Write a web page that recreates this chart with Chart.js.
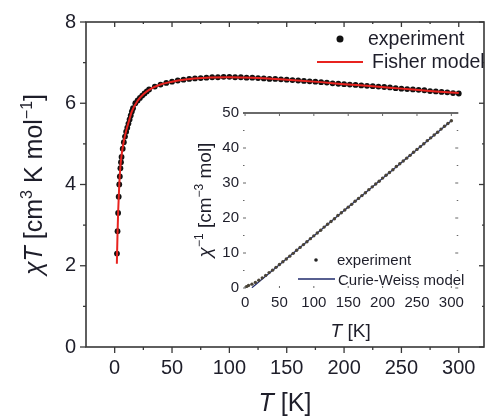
<!DOCTYPE html>
<html>
<head>
<meta charset="utf-8">
<title>chiT vs T</title>
<script src="https://cdn.jsdelivr.net/npm/chart.js@4.4.0/dist/chart.umd.min.js"></script>
<style>
    html, body { margin: 0; padding: 0; background: #fff; }
    #wrap { position: relative; width: 488px; height: 419px; overflow: hidden; }
    #mainChart { position: absolute; left: 0; top: 0; }
    #insetChart { position: absolute; left: 190px; top: 100px; }
</style>
</head>
<body>
<div id="wrap">
    <canvas id="mainChart" width="488" height="419"></canvas>
    <canvas id="insetChart" width="280" height="245"></canvas>
</div>
<script>
// ============================================
// Data
// ============================================

// main panel: chi*T vs T, experiment
const EXP_T = [2, 2.5, 3, 3.5, 4, 4.5, 5, 5.5, 6, 7, 8, 9, 10, 11, 12, 13, 14, 15, 16, 18, 20, 22, 24, 26, 28,
    30, 35, 40, 45, 50, 55, 60, 65, 70, 75, 80, 85, 90, 95, 100, 105, 110, 115, 120, 125, 130, 135, 140, 145,
    150, 155, 160, 165, 170, 175, 180, 185, 190, 195, 200, 205, 210, 215, 220, 225, 230, 235, 240, 245,
    250, 255, 260, 265, 270, 275, 280, 285, 290, 295, 300];
const EXP_CHIT = [2.30, 2.85, 3.30, 3.70, 4.00, 4.20, 4.40, 4.55, 4.68, 4.88, 5.04, 5.18, 5.30, 5.40, 5.50, 5.60, 5.70, 5.80, 5.88, 6.00, 6.07, 6.13, 6.19, 6.24, 6.29,
    6.34, 6.41, 6.46, 6.50, 6.53, 6.56, 6.58, 6.60, 6.61, 6.62, 6.63, 6.64, 6.64, 6.65, 6.65, 6.64, 6.64, 6.63, 6.63, 6.62, 6.61, 6.60, 6.60, 6.59,
    6.58, 6.57, 6.56, 6.55, 6.54, 6.53, 6.52, 6.51, 6.49, 6.48, 6.47, 6.46, 6.45, 6.44, 6.43, 6.42, 6.41, 6.40, 6.39, 6.37,
    6.36, 6.35, 6.34, 6.33, 6.32, 6.30, 6.29, 6.28, 6.27, 6.25, 6.24];

// main panel: Fisher model
const FISHER_T = [1.9, 2.5, 3, 4, 5, 6, 8, 10, 12, 15, 20, 25, 30, 40, 50, 60, 80, 100, 120, 150, 180, 200, 220, 250, 280, 300];
const FISHER_CHIT = [2.05, 2.80, 3.30, 4.00, 4.45, 4.72, 5.07, 5.32, 5.52, 5.80, 6.06, 6.22, 6.33, 6.46, 6.53, 6.58, 6.63, 6.64, 6.63, 6.58, 6.52, 6.47, 6.43, 6.36, 6.29, 6.25];

// inset: inverse susceptibility vs T
const INV_T = [2, 5, 10, 15, 20, 25, 30, 35, 40, 45, 50, 55, 60, 65, 70, 75, 80, 85, 90, 95, 100, 105, 110, 115,
    120, 125, 130, 135, 140, 145, 150, 155, 160, 165, 170, 175, 180, 185, 190, 195, 200, 205, 210, 215,
    220, 225, 230, 235, 240, 245, 250, 255, 260, 265, 270, 275, 280, 285, 290, 295, 300];
const INV_CHI = [0.4, 0.7, 1.1, 1.6, 2.2, 2.9, 3.6, 4.4, 5.1, 5.9, 6.7, 7.5, 8.3, 9.1, 9.9, 10.8, 11.6, 12.4, 13.2, 14.1, 14.9, 15.7, 16.5, 17.4,
    18.2, 19.0, 19.8, 20.7, 21.5, 22.3, 23.1, 23.9, 24.8, 25.6, 26.4, 27.2, 28.1, 28.9, 29.7, 30.5, 31.4, 32.2, 33.0, 33.8,
    34.7, 35.5, 36.3, 37.1, 37.9, 38.8, 39.6, 40.4, 41.2, 42.1, 42.9, 43.7, 44.5, 45.4, 46.2, 47.0, 47.8];

// inset: Curie-Weiss model (straight line)
const CW_T = [10, 300];
const CW_INV = [0.1, 47.8];

// tick values
const MAIN_X_TICKS = [0, 25, 50, 75, 100, 125, 150, 175, 200, 225, 250, 275, 300];
const MAIN_Y_TICKS = [0, 1, 2, 3, 4, 5, 6, 7, 8];
const INSET_X_TICKS = [0, 50, 100, 150, 200, 250, 300];
const INSET_Y_TICKS = [0, 5, 10, 15, 20, 25, 30, 35, 40, 45, 50];

// ============================================
// Styling
// ============================================
const FONT = "'Liberation Sans', Arial, sans-serif";
const AXIS_COLOR = "#383838";
const TEXT_COLOR = "#1e1e2a";
const RED = "#e8231f";
const NAVY = "#1f2a6b";

Chart.defaults.font.family = FONT;
Chart.defaults.color = TEXT_COLOR;

const toXY = (xs, ys) => xs.map((x, i) => ({ x, y: ys[i] }));

function line(ctx, x1, y1, x2, y2) {
    ctx.beginPath();
    ctx.moveTo(x1, y1);
    ctx.lineTo(x2, y2);
    ctx.stroke();
}

// draw text made of pieces (italic / superscript)
function drawRich(ctx, parts, x, y, size) {
    const fontFor = (p) => `${p.italic ? "italic " : ""}${p.sup ? Math.round(size * 0.62) : size}px ${FONT}`;
    let total = 0;
    parts.forEach((p) => { ctx.font = fontFor(p); total += ctx.measureText(p.t).width; });
    let cx = x - total / 2;
    ctx.textAlign = "left";
    ctx.textBaseline = "alphabetic";
    parts.forEach((p) => {
        ctx.font = fontFor(p);
        ctx.fillText(p.t, cx, p.sup ? y - size * 0.4 : y);
        cx += ctx.measureText(p.t).width;
    });
}

// ============================================
// Main panel decorations: frame, ticks, titles, legend
// ============================================
const mainDecor = {
    id: "mainDecor",
    afterDraw(chart) {
        const { ctx, chartArea: a, scales: { x, y } } = chart;
        ctx.save();
        ctx.strokeStyle = AXIS_COLOR;
        ctx.lineWidth = 1.6;
        ctx.strokeRect(a.left, a.top, a.right - a.left, a.bottom - a.top);

        ctx.lineWidth = 1.3;
        MAIN_X_TICKS.forEach((t) => {
            const px = x.getPixelForValue(t);
            const len = t % 50 === 0 ? 6 : 3;
            line(ctx, px, a.bottom, px, a.bottom + len);
            line(ctx, px, a.top, px, a.top + len - 1);
        });
        MAIN_Y_TICKS.forEach((v) => {
            const py = y.getPixelForValue(v);
            const len = v % 2 === 0 ? 6 : 3;
            line(ctx, a.left - len, py, a.left, py);
            line(ctx, a.right - len + 1, py, a.right, py);
        });

        // axis titles
        ctx.fillStyle = TEXT_COLOR;
        drawRich(ctx, [
            { t: "T", italic: true }, { t: " [K]" }
        ], (a.left + a.right) / 2, 411, 25);

        ctx.save();
        ctx.translate(42, (a.top + a.bottom) / 2);
        ctx.rotate(-Math.PI / 2);
        drawRich(ctx, [
            { t: "\u03C7", italic: true }, { t: "T", italic: true }, { t: " [cm" }, { t: "3", sup: true },
            { t: " K mol" }, { t: "\u22121", sup: true }, { t: "]" }
        ], 0, 0, 25);
        ctx.restore();

        // legend
        ctx.fillStyle = "#111";
        ctx.beginPath();
        ctx.arc(340, 39, 3.5, 0, Math.PI * 2);
        ctx.fill();
        ctx.strokeStyle = RED;
        ctx.lineWidth = 2;
        line(ctx, 317, 62, 363, 62);

        ctx.fillStyle = TEXT_COLOR;
        ctx.font = `19.5px ${FONT}`;
        ctx.textAlign = "left";
        ctx.textBaseline = "alphabetic";
        ctx.fillText("experiment", 368, 45);
        ctx.fillText("Fisher model", 372, 68);
        ctx.restore();
    }
};

// ============================================
// Inset decorations
// ============================================
const insetDecor = {
    id: "insetDecor",
    afterDraw(chart) {
        const { ctx, chartArea: a, scales: { x, y } } = chart;
        ctx.save();
        ctx.strokeStyle = AXIS_COLOR;
        ctx.lineWidth = 1.5;
        line(ctx, a.left, a.top, a.right, a.top);

        ctx.strokeStyle = "#666";
        ctx.lineWidth = 1;
        INSET_X_TICKS.forEach((t) => {
            const px = x.getPixelForValue(t);
            line(ctx, px, a.top, px, a.top + 3);
            line(ctx, px, a.bottom, px, a.bottom - 2);
        });
        INSET_Y_TICKS.forEach((v) => {
            const py = y.getPixelForValue(v);
            const len = v % 10 === 0 ? 3 : 1.5;
            line(ctx, a.left, py, a.left + len, py);
            line(ctx, a.right - len, py, a.right, py);
        });

        // titles
        ctx.fillStyle = TEXT_COLOR;
        drawRich(ctx, [
            { t: "T", italic: true }, { t: " [K]" }
        ], (a.left + a.right) / 2, 237, 19);

        ctx.save();
        ctx.translate(21, 100);
        ctx.rotate(-Math.PI / 2);
        drawRich(ctx, [
            { t: "\u03C7", italic: true }, { t: "\u22121", sup: true }, { t: " [cm" },
            { t: "\u22123", sup: true }, { t: " mol]" }
        ], 0, 0, 19);
        ctx.restore();

        // legend
        ctx.fillStyle = "#222";
        ctx.beginPath();
        ctx.arc(126, 160, 1.8, 0, Math.PI * 2);
        ctx.fill();
        ctx.strokeStyle = NAVY;
        ctx.lineWidth = 1.5;
        line(ctx, 108, 179, 145, 179);

        ctx.fillStyle = TEXT_COLOR;
        ctx.font = `15px ${FONT}`;
        ctx.textAlign = "left";
        ctx.textBaseline = "alphabetic";
        ctx.fillText("experiment", 147, 165);
        ctx.fillText("Curie-Weiss model", 148, 185);
        ctx.restore();
    }
};

// ============================================
// Charts
// ============================================
const hiddenGrid = { display: false, drawTicks: false };
const hiddenBorder = { display: false };

new Chart(document.getElementById("mainChart"), {
    type: "scatter",
    data: {
        datasets: [
            {
                label: "Fisher model",
                data: toXY(FISHER_T, FISHER_CHIT),
                showLine: true,
                borderColor: RED,
                borderWidth: 2,
                pointRadius: 0,
                cubicInterpolationMode: "monotone",
                order: 0,
            },
            {
                label: "experiment",
                data: toXY(EXP_T, EXP_CHIT),
                pointRadius: 2.9,
                pointBorderWidth: 0,
                backgroundColor: "#111",
                order: 1,
            },
        ],
    },
    options: {
        responsive: false,
        animation: false,
        devicePixelRatio: 1,
        layout: { padding: { top: 20, right: 1, left: 0, bottom: 0 } },
        plugins: { legend: { display: false }, tooltip: { enabled: false } },
        scales: {
            x: {
                type: "linear",
                min: -25,
                max: 322,
                grid: hiddenGrid,
                border: hiddenBorder,
                ticks: {
                    stepSize: 50, includeBounds: false, padding: 9,
                    maxRotation: 0, autoSkip: false,
                    font: { size: 20 }, color: TEXT_COLOR,
                },
                afterFit: (s) => { s.height = 72; },
            },
            y: {
                min: 0,
                max: 8,
                grid: hiddenGrid,
                border: hiddenBorder,
                ticks: { stepSize: 2, padding: 10, font: { size: 20 }, color: TEXT_COLOR },
                afterFit: (s) => { s.width = 86; },
            },
        },
    },
    plugins: [mainDecor],
});

new Chart(document.getElementById("insetChart"), {
    type: "scatter",
    data: {
        datasets: [
            {
                label: "experiment",
                data: toXY(INV_T, INV_CHI),
                pointRadius: 1.7,
                pointBorderWidth: 0,
                backgroundColor: "#4a4438",
                order: 0,
            },
            {
                label: "Curie-Weiss model",
                data: toXY(CW_T, CW_INV),
                showLine: true,
                borderColor: NAVY,
                borderWidth: 1.3,
                pointRadius: 0,
                order: 1,
            },
        ],
    },
    options: {
        responsive: false,
        animation: false,
        devicePixelRatio: 1,
        layout: { padding: { top: 10, right: 2, left: 0, bottom: 0 } },
        plugins: { legend: { display: false }, tooltip: { enabled: false } },
        scales: {
            x: {
                type: "linear",
                min: -3,
                max: 310,
                grid: hiddenGrid,
                border: hiddenBorder,
                ticks: {
                    stepSize: 50, includeBounds: false, padding: 6,
                    maxRotation: 0, autoSkip: false,
                    font: { size: 15 }, color: TEXT_COLOR,
                },
                afterFit: (s) => { s.height = 57; },
            },
            y: {
                min: 0,
                max: 50,
                grid: hiddenGrid,
                border: hiddenBorder,
                ticks: { stepSize: 10, padding: 4, font: { size: 15 }, color: TEXT_COLOR },
                afterFit: (s) => { s.width = 53; },
            },
        },
    },
    plugins: [insetDecor],
});
</script>
</body>
</html>
